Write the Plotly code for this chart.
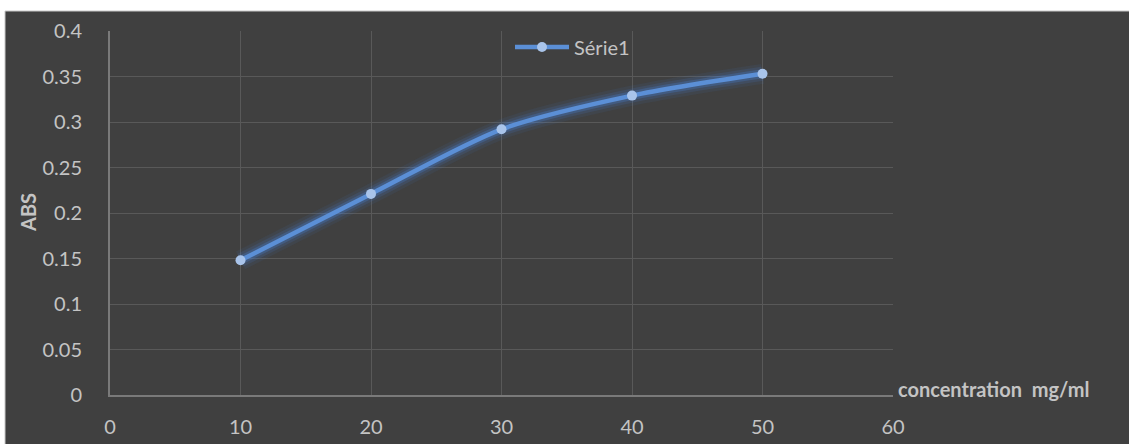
import plotly.graph_objects as go

# Absorbance vs. concentration
concentration = [10, 20, 30, 40, 50]
absorbance = [0.148, 0.221, 0.292, 0.329, 0.353]
series_name = "Série1"

x_ticks = [0, 10, 20, 30, 40, 50, 60]
y_ticks = [0, 0.05, 0.1, 0.15, 0.2, 0.25, 0.3, 0.35, 0.4]
y_tick_text = ["0", "0.05", "0.1", "0.15", "0.2", "0.25", "0.3", "0.35", "0.4"]

BG = "#404040"
GRID = "#595959"
AXIS = "#7a7a7a"
TEXT = "#c4c4c4"
LINE = "#5b8fd6"
MARK = "#a9c4ea"
FONT = "Lato, 'Open Sans', sans-serif"
FS = 20

W, H = 1129, 444
L, R, T, B = 110, 236, 31, 49
pw, ph = W - L - R, H - T - B

fig = go.Figure()

# soft glow underneath the main line
for w, a in [(20, 0.08), (14, 0.14), (9, 0.26)]:
    fig.add_trace(go.Scatter(
        x=concentration, y=absorbance, mode="lines",
        line=dict(color=f"rgba(70,130,220,{a})", width=w, shape="spline", smoothing=0.8),
        showlegend=False, hoverinfo="skip",
    ))

fig.add_trace(go.Scatter(
    x=concentration, y=absorbance, mode="lines+markers", name=series_name,
    line=dict(color=LINE, width=4.5, shape="spline", smoothing=0.8),
    marker=dict(color=MARK, size=10, line=dict(width=0)),
))

def px_x(p):
    return (p - L) / pw

def px_y(p):
    return (H - B - p) / ph

fig.add_shape(type="rect", xref="paper", yref="paper",
              x0=px_x(5), x1=px_x(W + 5), y0=px_y(H + 5), y1=px_y(11),
              fillcolor=BG, line=dict(color="#c8c8c8", width=1), layer="below")

fig.add_annotation(text="<b>concentration  mg/ml</b>", xref="paper", yref="paper",
                   x=px_x(896), y=0, xanchor="left", yanchor="middle", yshift=6,
                   showarrow=False, font=dict(family=FONT, size=FS, color=TEXT))
fig.add_annotation(text="<b>ABS</b>", xref="paper", yref="paper",
                   x=px_x(28), y=px_y(213), xanchor="center", yanchor="middle",
                   textangle=-90, showarrow=False,
                   font=dict(family=FONT, size=FS, color=TEXT))

fig.update_layout(
    width=W, height=H,
    margin=dict(l=L, r=R, t=T, b=B, autoexpand=False),
    paper_bgcolor="white", plot_bgcolor=BG,
    font=dict(family=FONT, size=FS, color=TEXT),
    showlegend=True,
    legend=dict(orientation="h", x=px_x(510), y=px_y(47), xanchor="left", yanchor="middle",
                bgcolor="rgba(0,0,0,0)", font=dict(family=FONT, size=FS, color=TEXT),
                itemwidth=54),
    xaxis=dict(range=[0, 60], tickvals=x_ticks, showgrid=True, gridcolor=GRID, gridwidth=1,
               showline=True, linecolor=AXIS, linewidth=2, zeroline=False, automargin=False,
               ticks="", ticklabelstandoff=13, tickfont=dict(color=TEXT, size=FS)),
    yaxis=dict(range=[0, 0.4], tickvals=y_ticks, ticktext=y_tick_text, showgrid=True,
               gridcolor=GRID, gridwidth=1, showline=True, linecolor=AXIS, linewidth=2,
               zeroline=False, automargin=False, ticks="", ticklabelstandoff=22,
               tickfont=dict(color=TEXT, size=FS)),
)

fig.write_html("out.html")
